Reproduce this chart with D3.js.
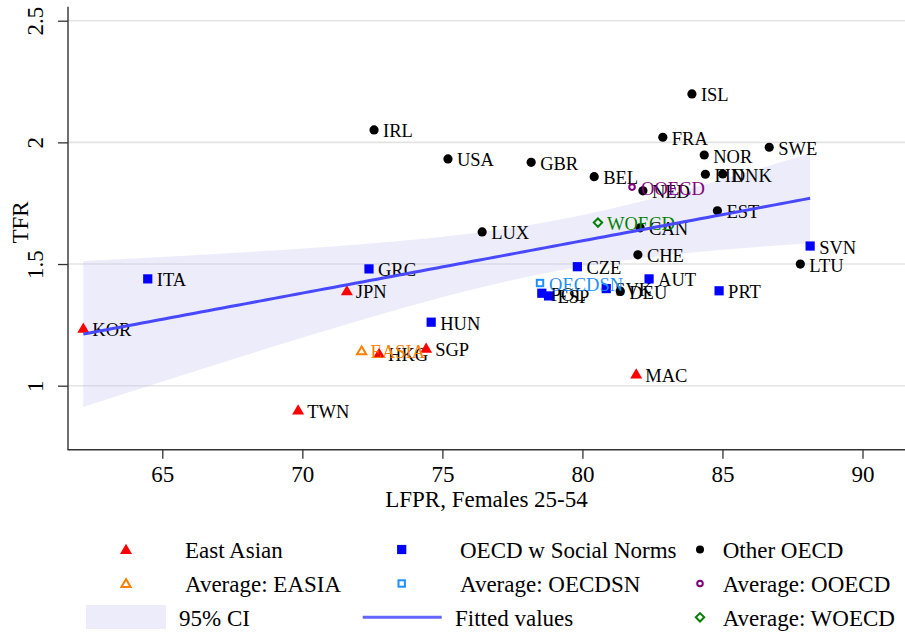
<!DOCTYPE html>
<html>
<head>
<meta charset="utf-8">
<script src="https://cdn.jsdelivr.net/npm/d3@7"></script>
<style>
  body { margin: 0; background: #fff; }
  svg { display: block; }
  text { font-family: "Liberation Serif", "Times New Roman", serif; }
</style>
</head>
<body>
<svg id="chart" width="905" height="633"></svg>
<script>
// ---- Country groups: female labour force participation (25-54) vs total fertility rate ----
const eastAsianNames = ["KOR", "JPN", "TWN", "HKG", "SGP", "MAC"];
const eastAsianLFPR  = [62.18, 71.59, 69.85, 72.74, 74.42, 81.92];
const eastAsianTFR   = [1.236, 1.390, 0.900, 1.133, 1.154, 1.048];

const socialNormsNames = ["ITA", "GRC", "HUN", "CZE", "POL", "ESP", "SVK", "AUT", "PRT", "SVN"];
const socialNormsLFPR  = [64.48, 72.38, 74.60, 79.82, 78.55, 78.79, 80.85, 82.38, 84.88, 88.13];
const socialNormsTFR   = [1.439, 1.480, 1.261, 1.489, 1.380, 1.369, 1.399, 1.439, 1.390, 1.574];

const otherNames = ["ISL", "FRA", "NOR", "SWE", "FIN", "DNK", "NED", "BEL", "GBR", "EST",
                    "CAN", "CHE", "DEU", "LTU", "LUX", "USA", "IRL"];
const otherLFPR  = [83.91, 82.87, 84.35, 86.67, 84.39, 85.01, 82.16, 80.42, 78.17, 84.82,
                    82.06, 81.98, 81.35, 87.78, 76.42, 75.20, 72.56];
const otherTFR   = [2.199, 2.021, 1.948, 1.980, 1.869, 1.870, 1.801, 1.859, 1.918, 1.719,
                    1.649, 1.538, 1.389, 1.500, 1.632, 1.932, 2.051];

const xTicks = [65, 70, 75, 80, 85, 90];
const yTicks = [1, 1.5, 2, 2.5];
const xTitle = "LFPR, Females 25-54";
const yTitle = "TFR";

// Two-sided 95% t critical value for n - 2 = 31 degrees of freedom
const tCrit = 2.0395;

// ---- helpers ----
const zip = (names, xs, ys) => names.map((n, i) => ({ name: n, x: xs[i], y: ys[i] }));
const eastAsian   = zip(eastAsianNames, eastAsianLFPR, eastAsianTFR);
const socialNorms = zip(socialNormsNames, socialNormsLFPR, socialNormsTFR);
const other       = zip(otherNames, otherLFPR, otherTFR);
const allPts = [...eastAsian, ...socialNorms, ...other];
const western = [...socialNorms, ...other];

const avg = (pts, name) => ({ name, x: d3.mean(pts, d => d.x), y: d3.mean(pts, d => d.y) });
const avgEASIA  = avg(eastAsian, "EASIA");
const avgOECDSN = avg(socialNorms, "OECDSN");
const avgOOECD  = avg(other, "OOECD");
const avgWOECD  = avg(western, "WOECD");

// ---- linear fit with 95% confidence band for the mean ----
const n = allPts.length;
const mx = d3.mean(allPts, d => d.x), my = d3.mean(allPts, d => d.y);
const sxx = d3.sum(allPts, d => (d.x - mx) ** 2);
const sxy = d3.sum(allPts, d => (d.x - mx) * (d.y - my));
const slope = sxy / sxx, intercept = my - slope * mx;
const sse = d3.sum(allPts, d => (d.y - (intercept + slope * d.x)) ** 2);
const s = Math.sqrt(sse / (n - 2));
const [xmin, xmax] = d3.extent(allPts, d => d.x);
const fit = d3.range(100).map(i => {
  const xv = xmin + (xmax - xmin) * i / 99;
  const yv = intercept + slope * xv;
  const h = tCrit * s * Math.sqrt(1 / n + (xv - mx) ** 2 / sxx);
  return { x: xv, y: yv, lo: yv - h, hi: yv + h };
});

// ---- layout ----
const svg = d3.select("#chart");
const x = d3.scaleLinear().domain([65, 90]).range([162.3, 862.5]);
const y = d3.scaleLinear().domain([1, 2.5]).range([385.7, 20.7]);
const plotLeft = 68, plotRight = 905, plotTop = 6.7, plotBottom = 449.7;
const axisColor = "#333";
const fontMain = 23, fontLabel = 18.5;

// grid
svg.append("g").selectAll("line").data(yTicks).join("line")
  .attr("x1", plotLeft).attr("x2", plotRight)
  .attr("y1", d => y(d)).attr("y2", d => y(d))
  .attr("stroke", "#e3e3e3").attr("stroke-width", 1.6);

// CI band
svg.append("path").datum(fit)
  .attr("d", d3.area().x(d => x(d.x)).y0(d => y(d.lo)).y1(d => y(d.hi)))
  .attr("fill", "#c4c4f4").attr("fill-opacity", 0.32);

// axes
const xAxis = svg.append("g").attr("transform", `translate(0,${plotBottom})`)
  .call(d3.axisBottom(x).tickValues(xTicks).tickSize(9).tickFormat(d3.format("d")));
xAxis.select(".domain").remove();
xAxis.selectAll(".tick line").attr("stroke", axisColor).attr("stroke-width", 1.3);
xAxis.selectAll(".tick text").attr("y", 32).attr("dy", 0)
  .attr("font-size", fontMain).attr("fill", "#000")
  .style("font-family", '"Liberation Serif", serif');

const yAxis = svg.append("g").attr("transform", `translate(${plotLeft},0)`)
  .call(d3.axisLeft(y).tickValues(yTicks).tickSize(10).tickFormat(d3.format("")));
yAxis.select(".domain").remove();
yAxis.selectAll(".tick line").attr("stroke", axisColor).attr("stroke-width", 1.3);
yAxis.selectAll(".tick text")
  .attr("x", 0).attr("y", 0).attr("dy", 0)
  .attr("transform", "translate(-25,0) rotate(-90)")
  .attr("text-anchor", "middle")
  .attr("font-size", fontMain).attr("fill", "#000")
  .style("font-family", '"Liberation Serif", serif');

svg.append("line").attr("x1", plotLeft - 0.5).attr("x2", plotRight)
  .attr("y1", plotBottom).attr("y2", plotBottom)
  .attr("stroke", axisColor).attr("stroke-width", 1.4);
svg.append("line").attr("x1", plotLeft).attr("x2", plotLeft)
  .attr("y1", plotTop).attr("y2", plotBottom)
  .attr("stroke", axisColor).attr("stroke-width", 1.4);

svg.append("text").attr("x", (plotLeft + plotRight) / 2).attr("y", 506.5)
  .attr("text-anchor", "middle").attr("font-size", fontMain).text(xTitle);
svg.append("text").attr("transform", "translate(28.3,222.5) rotate(-90)")
  .attr("text-anchor", "middle").attr("font-size", fontMain).text(yTitle);

// ---- marker shapes ----
const shapes = {
  triangle: (g, cx, cy, r) => g.append("path")
    .attr("d", `M${cx},${cy - r * 0.95}L${cx + r},${cy + r * 0.75}L${cx - r},${cy + r * 0.75}Z`),
  square: (g, cx, cy, r) => g.append("rect")
    .attr("x", cx - r).attr("y", cy - r).attr("width", 2 * r).attr("height", 2 * r),
  circle: (g, cx, cy, r) => g.append("circle").attr("cx", cx).attr("cy", cy).attr("r", r),
  diamond: (g, cx, cy, r) => g.append("path")
    .attr("d", `M${cx},${cy - r}L${cx + r},${cy}L${cx},${cy + r}L${cx - r},${cy}Z`)
};
function marker(g, shape, cx, cy, r, color, hollow) {
  const m = shapes[shape](g, cx, cy, r);
  if (hollow) m.attr("fill", "none").attr("stroke", color).attr("stroke-width", 2);
  else m.attr("fill", color);
  return m;
}

function drawGroup(pts, shape, r, color, hollow, labelColor) {
  const g = svg.append("g");
  pts.forEach(d => {
    marker(g, shape, x(d.x), y(d.y), r, color, hollow);
    g.append("text").attr("x", x(d.x) + 9).attr("y", y(d.y) + 7.5)
      .attr("font-size", fontLabel).attr("fill", labelColor).text(d.name);
  });
}

drawGroup(eastAsian, "triangle", 6, "#ff0000", false, "#000");
drawGroup(socialNorms, "square", 4.6, "#0000ff", false, "#000");
drawGroup(other, "circle", 4.6, "#000", false, "#000");
drawGroup([avgEASIA], "triangle", 4.6, "#ff8000", true, "#ff8000");
drawGroup([avgOECDSN], "square", 3.2, "#1e90ff", true, "#1e90ff");
drawGroup([avgOOECD], "circle", 2.8, "#800080", true, "#800080");
drawGroup([avgWOECD], "diamond", 4.2, "#008000", true, "#008000");

// fitted line
svg.append("path").datum(fit)
  .attr("d", d3.line().x(d => x(d.x)).y(d => y(d.y)))
  .attr("fill", "none").attr("stroke", "#4848ff").attr("stroke-width", 3);

// ---- legend ----
const legend = svg.append("g");
const rowY = [549.5, 583.5, 617.3];
const legText = (tx, ty, str) => legend.append("text").attr("x", tx).attr("y", ty + 8.5)
  .attr("font-size", fontMain).text(str);

marker(legend, "triangle", 126, rowY[0], 6, "#ff0000", false);
legText(185, rowY[0], "East Asian");
marker(legend, "square", 401.7, rowY[0], 4.6, "#0000ff", false);
legText(460, rowY[0], "OECD w Social Norms");
marker(legend, "circle", 700, rowY[0], 4, "#000", false);
legText(722.7, rowY[0], "Other OECD");

marker(legend, "triangle", 126, rowY[1], 4.6, "#ff8000", true);
legText(185, rowY[1], "Average: EASIA");
marker(legend, "square", 401.7, rowY[1], 3.2, "#1e90ff", true);
legText(460, rowY[1], "Average: OECDSN");
marker(legend, "circle", 700, rowY[1], 2.8, "#800080", true);
legText(722.7, rowY[1], "Average: OOECD");

legend.append("rect").attr("x", 86).attr("y", 605).attr("width", 80).attr("height", 24)
  .attr("fill", "#c4c4f4").attr("fill-opacity", 0.32);
legText(179, rowY[2], "95% CI");
legend.append("line").attr("x1", 362.7).attr("x2", 441.7)
  .attr("y1", rowY[2]).attr("y2", rowY[2])
  .attr("stroke", "#6464ff").attr("stroke-width", 3);
legText(455, rowY[2], "Fitted values");
marker(legend, "diamond", 700, rowY[2], 4.2, "#008000", true);
legText(722.7, rowY[2], "Average: WOECD");
</script>
</body>
</html>
